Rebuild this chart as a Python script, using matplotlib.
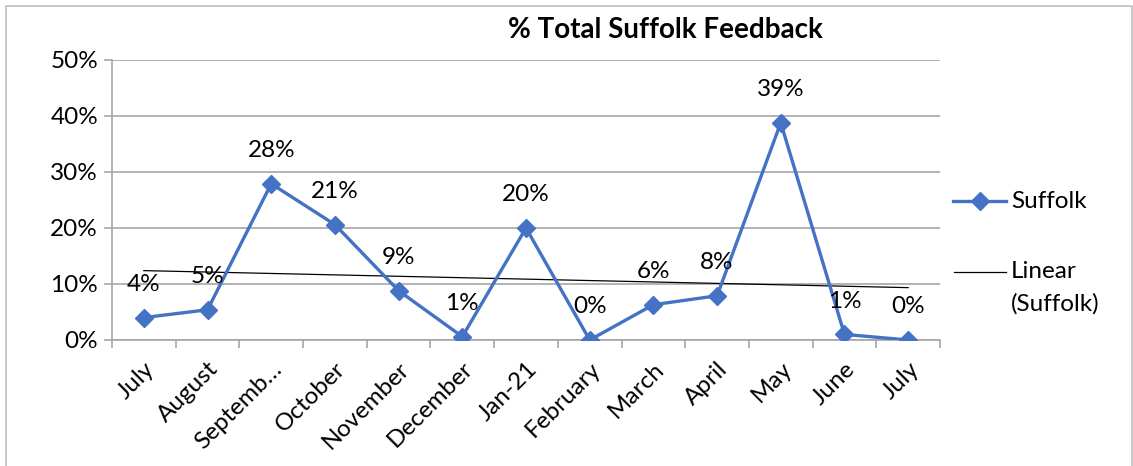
import matplotlib
matplotlib.use("Agg")
import matplotlib.pyplot as plt
from matplotlib.patches import Rectangle
from matplotlib.lines import Line2D
import numpy as np

plt.rcParams['font.family'] = ['Lato', 'DejaVu Sans']

months = ['July', 'August', 'Septemb…', 'October', 'November', 'December',
          'Jan-21', 'February', 'March', 'April', 'May', 'June', 'July']
suffolk = [4.0, 5.4, 27.9, 20.6, 8.8, 0.6, 20.0, 0.0, 6.3, 7.9, 38.8, 1.0, 0.0]
yticks = [0, 10, 20, 30, 40, 50]

blue = '#4472C4'
grey = '#A6A6A6'
fs = 17.5
lw, ms = 2.4, 9.5

W, H = 1133, 466
fig = plt.figure(figsize=(W / 100, H / 100), dpi=100)
ax = fig.add_axes([112 / W, 1 - 340 / H, (940 - 112) / W, (340 - 60) / H])

x = np.arange(len(months))
ax.plot(x, suffolk, color=blue, lw=lw, marker='D', ms=ms, zorder=3)

# linear trendline
k, b = np.polyfit(x, suffolk, 1)
ax.plot(x, k * x + b, color='black', lw=0.9, zorder=2)

for xi, v in zip(x, suffolk):
    ax.annotate('%d%%' % round(v), (xi, v), xytext=(0, 24), textcoords='offset points',
                ha='center', va='center', fontsize=fs)

ax.set_xlim(-0.5, len(months) - 0.5)
ax.set_ylim(0, 50)
ax.set_yticks(yticks)
ax.set_yticklabels(['%d%%' % t for t in yticks], fontsize=fs)
ax.set_xticks(x)
ax.set_xticklabels(months, rotation=45, ha='right', rotation_mode='anchor', fontsize=fs)
ax.set_xticks(np.arange(len(months) + 1) - 0.5, minor=True)
ax.tick_params(axis='x', which='major', length=0, pad=13)
ax.tick_params(axis='x', which='minor', length=6, color=grey, width=1.2, direction='out')
ax.tick_params(axis='y', length=6, color=grey, width=1.2, pad=4)
ax.yaxis.grid(True, color=grey, lw=1.2)
ax.set_axisbelow(True)
for s in ['top', 'right']:
    ax.spines[s].set_visible(False)
for s in ['left', 'bottom']:
    ax.spines[s].set_color(grey)
    ax.spines[s].set_linewidth(1.2)

# legend
fig.lines.append(Line2D([953 / W, 1006 / W], [1 - 201 / H] * 2, transform=fig.transFigure,
                        color=blue, lw=lw))
fig.lines.append(Line2D([979.5 / W], [1 - 201 / H], transform=fig.transFigure,
                        color=blue, marker='D', ms=ms))
fig.text(1011 / W, 1 - 201 / H, 'Suffolk', ha='left', va='center', fontsize=fs)
fig.lines.append(Line2D([954 / W, 1006 / W], [1 - 272 / H] * 2, transform=fig.transFigure,
                        color='black', lw=0.9))
fig.text(1011 / W, 1 - 272 / H, 'Linear', ha='left', va='center', fontsize=fs)
fig.text(1011 / W, 1 - 304 / H, '(Suffolk)', ha='left', va='center', fontsize=fs)

fig.text(665 / W, 1 - 30 / H, '% Total Suffolk Feedback', ha='center', va='center',
         fontsize=20, fontweight='bold')

fig.patches.append(Rectangle((6 / W, -0.05), (1132 - 6) / W, 1.05 - 6 / H,
                             transform=fig.transFigure, fill=False, ec='#BFBFBF', lw=1.2))

fig.savefig('out.png', dpi=100)
